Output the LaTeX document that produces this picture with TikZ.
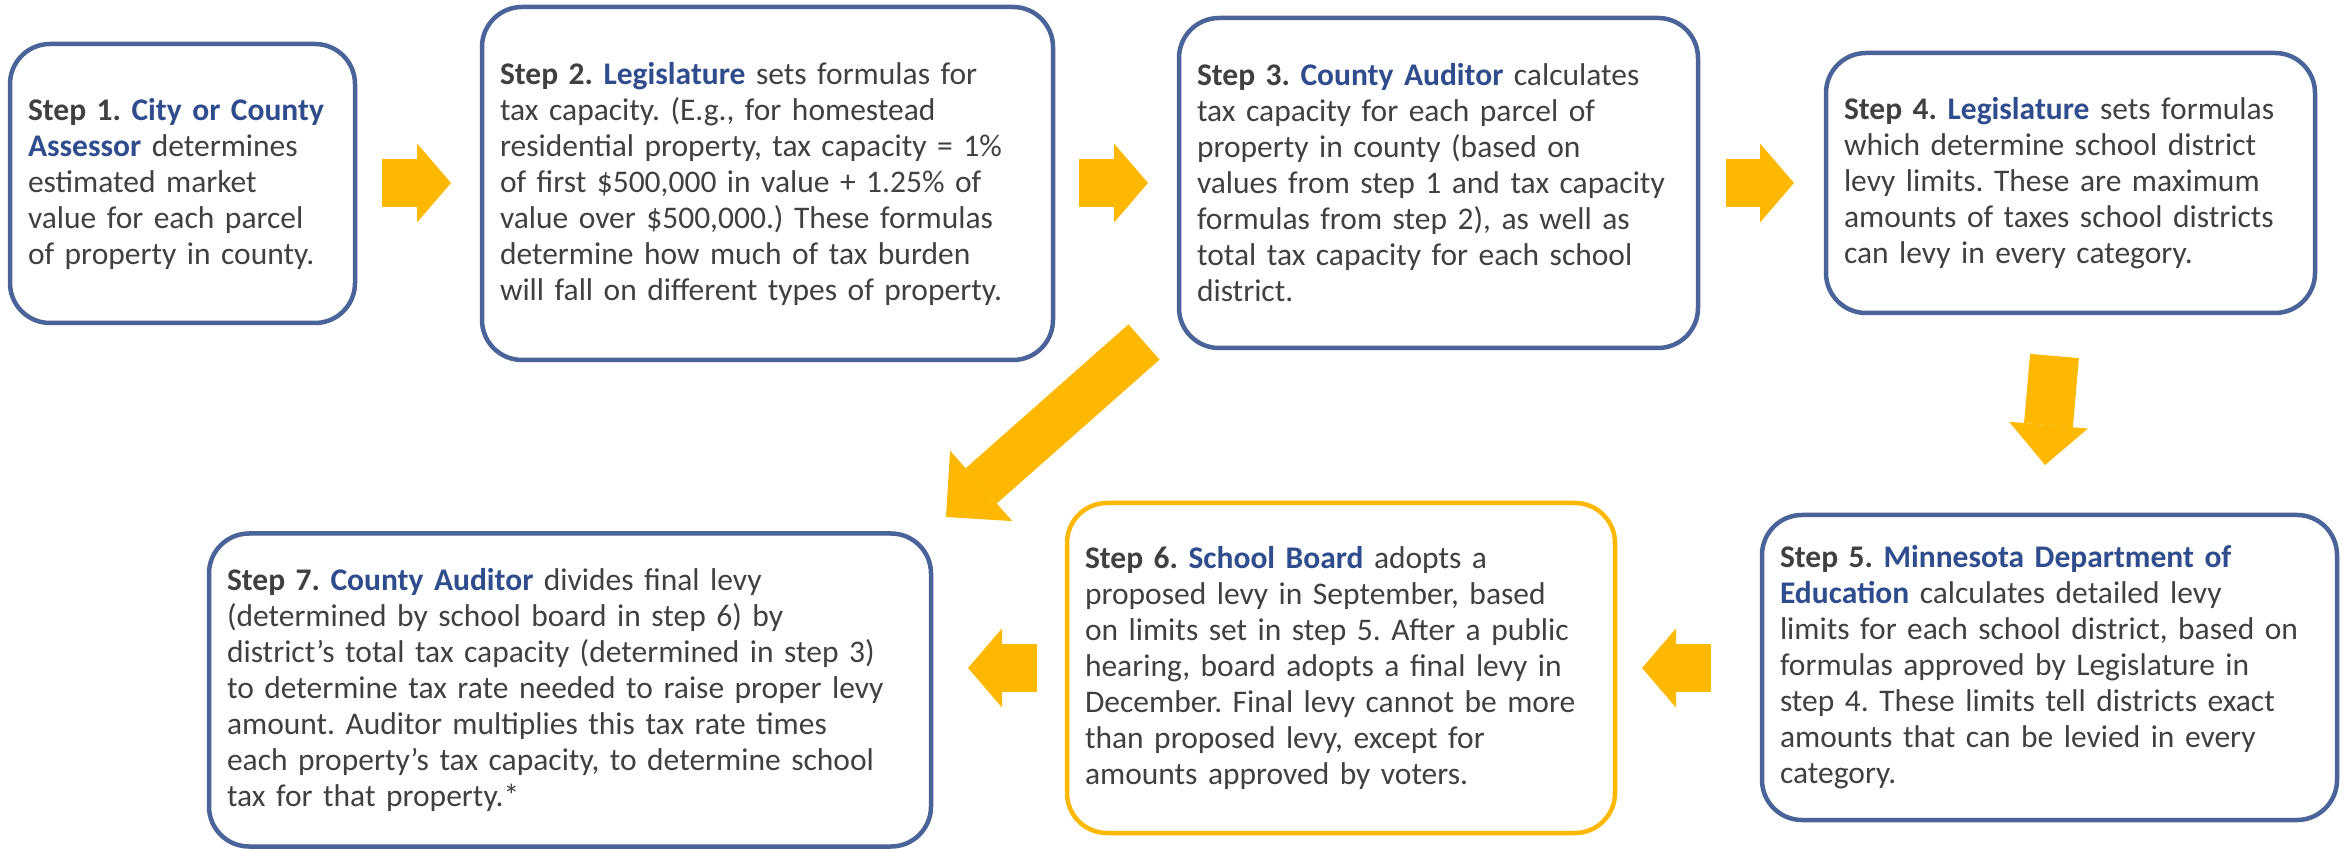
\documentclass[tikz,border=0pt]{standalone}
\usepackage{fontspec}
\setmainfont{Carlito}
\usetikzlibrary{arrows.meta}

\definecolor{boxblue}{HTML}{4A6399}
\definecolor{nameblue}{HTML}{2F4C8C}
\definecolor{txtgray}{HTML}{404040}
\definecolor{arrowgold}{HTML}{FFB800}

\newcommand{\who}[1]{\textcolor{nameblue}{\textbf{#1}}}
\frenchspacing

\begin{document}
\begin{tikzpicture}[x=0.5pt, y=-0.5pt,
		stepbox/.style={draw=boxblue, line width=2.25pt, rounded corners=20pt, fill=white, text=txtgray, align=left, inner xsep=9pt, inner ysep=0pt, font=\fontsize{15.75}{18}\selectfont},
		bigarrow/.style={draw=arrowgold, line width=24pt, -{Triangle[width=39.5pt, length=17pt, line width=0pt]}}]

				\useasboundingbox (0, 0) rectangle (2346, 849);

				\node [stepbox, text width=154.5pt, minimum height=139.5pt] (s1) at (182.5, 183.5) {\textbf{Step 1.} \who{City or County}\\ \who{Assessor} determines\\ estimated market\\ value for each parcel\\ of property in county.};
				\node [stepbox, text width=267.5pt, minimum height=176.5pt] (s2) at (767.5, 183.5) {\textbf{Step 2.} \who{Legislature} sets formulas for\\ tax capacity. (E.g., for homestead\\ residential property, tax capacity = 1\%\\ of first \$500,000 in value + 1.25\% of\\ value over \$500,000.) These formulas\\ determine how much of tax burden\\ will fall on different types of property.};
				\node [stepbox, text width=241.5pt, minimum height=165pt] (s3) at (1438.5, 183) {\textbf{Step 3.} \who{County Auditor} calculates\\ tax capacity for each parcel of\\ property in county (based on\\ values from step 1 and tax capacity\\ formulas from step 2), as well as\\ total tax capacity for each school\\ district.};
				\node [stepbox, text width=226.5pt, minimum height=130pt] (s4) at (2070.5, 183) {\textbf{Step 4.} \who{Legislature} sets formulas\\ which determine school district\\ levy limits. These are maximum\\ amounts of taxes school districts\\ can levy in every category.};

				%------
				\node [stepbox, text width=269.5pt, minimum height=152.5pt] (s5) at (2049.5, 667.5) {\textbf{Step 5.} \who{Minnesota Department of}\\ \who{Education} calculates detailed levy\\ limits for each school district, based on\\ formulas approved by Legislature in\\ step 4. These limits tell districts exact\\ amounts that can be levied in every\\ category.};
				\node [stepbox, draw=arrowgold, text width=256pt, minimum height=165pt] (s6) at (1341, 668) {\textbf{Step 6.} \who{School Board} adopts a\\ proposed levy in September, based\\ on limits set in step 5. After a public\\ hearing, board adopts a final levy in\\ December. Final levy cannot be more\\ than proposed levy, except for\\ amounts approved by voters.};
				\node [stepbox, text width=343pt, minimum height=156.5pt] (s7) at (570, 690) {\textbf{Step 7.} \who{County Auditor} divides final levy\\ (determined by school board in step 6) by\\ district’s total tax capacity (determined in step 3)\\ to determine tax rate needed to raise proper levy\\ amount. Auditor multiplies this tax rate times\\ each property’s tax capacity, to determine school\\ tax for that property.*};

				%------
				\coordinate (a12) at (382, 183);   \coordinate (b12) at (451, 183);
				\coordinate (a23) at (1079, 183);  \coordinate (b23) at (1148, 183);
				\coordinate (a34) at (1726, 183);  \coordinate (b34) at (1794, 183);
				\coordinate (a45) at (2054.5, 356); \coordinate (b45) at (2045, 465);
				\coordinate (a56) at (1711, 668);  \coordinate (b56) at (1642, 668);
				\coordinate (a67) at (1037, 668);  \coordinate (b67) at (968, 668);
				\coordinate (a37) at (1144, 342);  \coordinate (b37) at (946, 517);

				\draw [bigarrow] (a12) -- (b12);
				\draw [bigarrow] (a23) -- (b23);
				\draw [bigarrow] (a34) -- (b34);
				\draw [bigarrow, line width=24.5pt, -{Triangle[width=39.5pt, length=20pt, line width=0pt]}] (a45) -- (b45);
				\draw [bigarrow] (a56) -- (b56);
				\draw [bigarrow] (a67) -- (b67);
				\draw [bigarrow, line width=23.5pt, -{Triangle[width=47pt, length=23.5pt, line width=0pt]}] (a37) -- (b37);
		\end{tikzpicture}
\end{document}
